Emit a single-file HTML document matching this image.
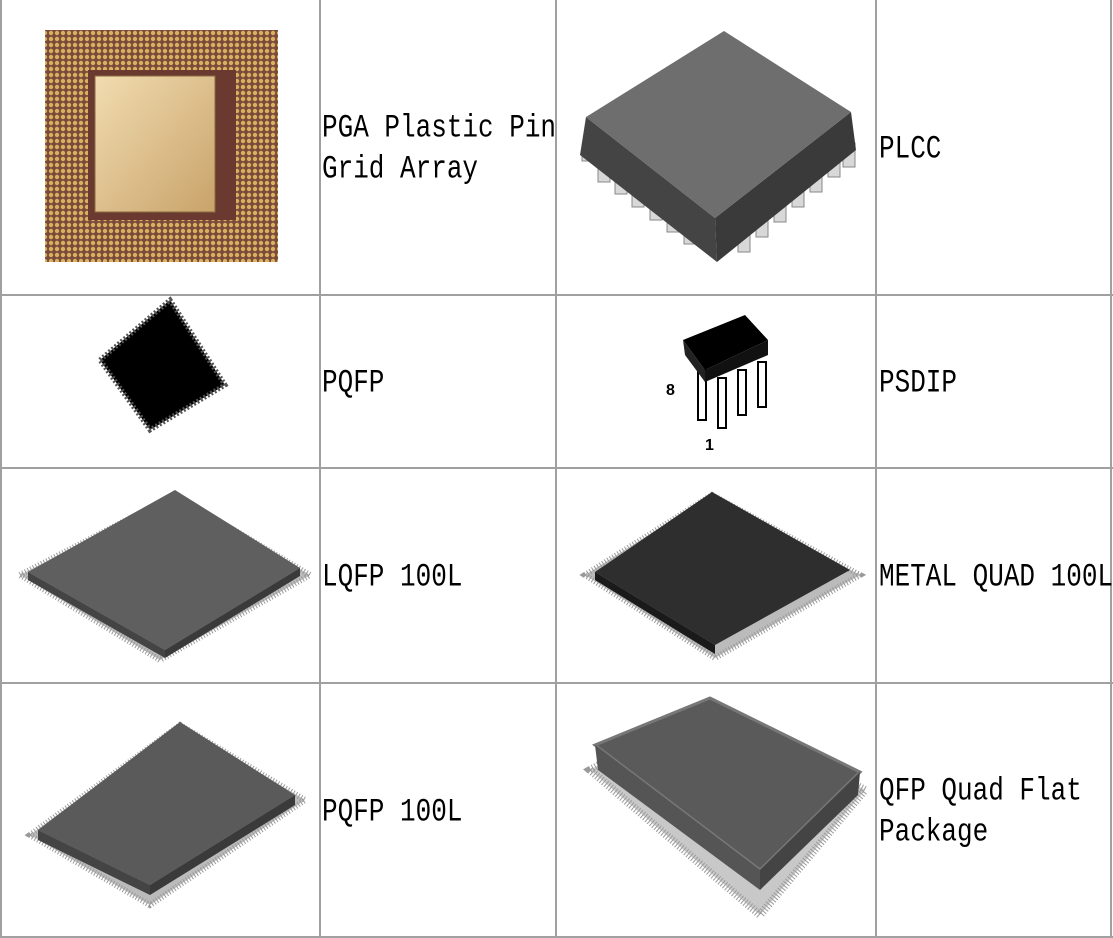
<!DOCTYPE html>
<html><head><meta charset="utf-8"><style>
body{margin:0;background:#fff;width:1113px;height:938px;overflow:hidden;position:relative;font-family:"Liberation Mono",monospace;}
.t{position:absolute;font-size:26px;color:#000;white-space:nowrap;transform-origin:0 50%;transform:scaleY(1.25);line-height:41px;}
svg{position:absolute;left:0;top:0}
</style></head><body>
<svg width="1113" height="938">
<defs>
<pattern id="dots" width="6" height="6" patternUnits="userSpaceOnUse"><rect width="6" height="6" fill="#7a4a3a"/><circle cx="3" cy="3" r="2.2" fill="#d9b060"/></pattern>
<linearGradient id="gold" x1="0" y1="0" x2="1" y2="1"><stop offset="0" stop-color="#f1dcb0"/><stop offset="1" stop-color="#c9a36a"/></linearGradient>
</defs>
<g stroke="#a0a0a0" stroke-width="2" fill="none">
<line x1="1" y1="0" x2="1" y2="938"/><line x1="320" y1="0" x2="320" y2="938"/><line x1="556" y1="0" x2="556" y2="938"/><line x1="876" y1="0" x2="876" y2="938"/><line x1="1111" y1="0" x2="1111" y2="938"/>
<line x1="0" y1="295" x2="1113" y2="295"/><line x1="0" y1="468" x2="1113" y2="468"/><line x1="0" y1="683" x2="1113" y2="683"/><line x1="0" y1="937" x2="1113" y2="937"/>
</g>
<!-- PGA -->
<rect x="45" y="30" width="233" height="232" fill="url(#dots)"/>
<rect x="88" y="70" width="148" height="150" fill="#6a3a30"/>
<rect x="95" y="76" width="120" height="136" fill="url(#gold)" stroke="#8a6a40"/>
<!-- PLCC -->
<g fill="#d8d8d8" stroke="#888"><rect x="582" y="145" width="12" height="16"/><rect x="598" y="160" width="12" height="22"/><rect x="615" y="172" width="12" height="22"/><rect x="632" y="185" width="12" height="22"/><rect x="650" y="198" width="12" height="22"/><rect x="667" y="210" width="12" height="22"/><rect x="684" y="222" width="12" height="22"/>
<rect x="738" y="228" width="12" height="24"/><rect x="756" y="213" width="12" height="24"/><rect x="774" y="198" width="12" height="24"/><rect x="792" y="183" width="12" height="24"/><rect x="810" y="168" width="12" height="24"/><rect x="828" y="153" width="12" height="24"/><rect x="843" y="143" width="12" height="24"/></g>
<polygon points="586,117 715,218 717,262 580,155" fill="#444"/>
<polygon points="715,218 851,112 856,150 717,262" fill="#3a3a3a"/>
<polygon points="586,117 724,31 851,112 715,218" fill="#6e6e6e"/>
<!-- PQFP small -->
<polygon points="100,360 170,300 225,385 150,430" fill="#000" stroke="#555" stroke-width="5" stroke-dasharray="2 2"/>
<polygon points="110,358 170,308 215,383 152,420" fill="#000"/>
<!-- PSDIP -->
<g fill="#fff" stroke="#000" stroke-width="2"><rect x="698" y="370" width="8" height="50"/><rect x="718" y="378" width="8" height="50"/><rect x="738" y="370" width="8" height="45"/><rect x="758" y="362" width="8" height="45"/></g>
<polygon points="683,340 745,315 768,340 705,370" fill="#000"/>
<polygon points="683,340 705,370 705,382 685,355" fill="#222"/>
<polygon points="705,370 768,340 768,355 705,382" fill="#111"/>
<text x="666" y="395" font-family="Liberation Sans" font-size="16" font-weight="bold">8</text>
<text x="705" y="450" font-family="Liberation Sans" font-size="16" font-weight="bold">1</text>
<!-- LQFP -->
<polygon points="20,575 175,495 310,575 160,660" fill="#bbb" stroke="#999" stroke-width="6" stroke-dasharray="1 2"/>
<polygon points="28,572 175,490 300,568 165,650" fill="#5f5f5f"/>
<polygon points="28,572 165,650 165,658 28,580" fill="#444"/>
<polygon points="165,650 300,568 300,576 165,658" fill="#3a3a3a"/>
<!-- METAL QUAD -->
<polygon points="585,575 712,495 860,575 715,658" fill="#bbb" stroke="#999" stroke-width="6" stroke-dasharray="1 2"/>
<polygon points="595,572 712,492 850,570 715,645" fill="#2e2e2e"/>
<polygon points="595,572 715,645 715,654 595,580" fill="#1a1a1a"/>
<!-- PQFP 100L -->
<polygon points="30,835 180,725 305,800 150,905" fill="#bbb" stroke="#999" stroke-width="6" stroke-dasharray="1 2"/>
<polygon points="38,830 180,722 295,795 150,885" fill="#5a5a5a"/>
<polygon points="38,830 150,885 150,895 38,840" fill="#444"/>
<polygon points="150,885 295,795 295,805 150,895" fill="#3a3a3a"/>
<!-- QFP -->
<polygon points="590,770 705,705 865,790 760,915" fill="#c8c8c8" stroke="#999" stroke-width="8" stroke-dasharray="1 2"/>
<polygon points="595,745 710,698 860,772 760,870" fill="#5a5a5a" stroke="#777" stroke-width="3"/>
<polygon points="595,745 760,870 760,890 598,770" fill="#555"/>
<polygon points="760,870 860,772 858,795 760,890" fill="#444"/>
</svg>
<div class="t" style="left:322px;top:108px">PGA Plastic Pin</div>
<div class="t" style="left:322px;top:149px">Grid Array</div>
<div class="t" style="left:879px;top:129px">PLCC</div>
<div class="t" style="left:322px;top:363px">PQFP</div>
<div class="t" style="left:879px;top:363px">PSDIP</div>
<div class="t" style="left:322px;top:557px">LQFP 100L</div>
<div class="t" style="left:879px;top:557px">METAL QUAD 100L</div>
<div class="t" style="left:322px;top:792px">PQFP 100L</div>
<div class="t" style="left:879px;top:771px">QFP Quad Flat</div>
<div class="t" style="left:879px;top:812px">Package</div>
</body></html>
